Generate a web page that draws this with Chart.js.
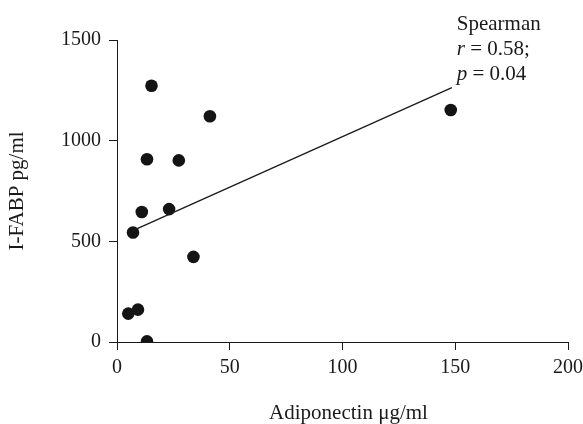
<!DOCTYPE html>
<html>
<head>
<meta charset="utf-8">
<script src="https://cdn.jsdelivr.net/npm/chart.js@4"></script>
<style>
  html, body { margin: 0; padding: 0; background: #fff; }
  #wrap { width: 583px; height: 424px; position: relative; }
</style>
</head>
<body>
<div id="wrap"><canvas id="c" width="583" height="424"></canvas></div>
<script>
// Data
const adiponectin = [15.3, 41.2, 13.3, 27.4, 11.0, 23.1, 7.1, 33.9, 5.0, 9.3, 13.3, 148.0];
const ifabp       = [1273, 1121, 908, 902, 646, 660, 544, 423, 141, 161, 3, 1152];
const fitX = [7, 148.5];
const fitY = [553, 1263];
const xTicks = [0, 50, 100, 150, 200];
const yTicks = [0, 500, 1000, 1500];
const xTitle = 'Adiponectin μg/ml';
const yTitle = 'I-FABP pg/ml';
const statLines = [
  [{t: 'Spearman', i: false}],
  [{t: 'r', i: true}, {t: ' = 0.58;', i: false}],
  [{t: 'p', i: true}, {t: ' = 0.04', i: false}]
];

const FONT = '"Liberation Serif", "Times New Roman", serif';
const INK = '#1a1a1a';

const points = adiponectin.map((x, i) => ({x: x, y: ifabp[i]}));
const fit = fitX.map((x, i) => ({x: x, y: fitY[i]}));

const textPlugin = {
  id: 'texts',
  afterDraw(chart) {
    const ctx = chart.ctx;
    const a = chart.chartArea;
    ctx.save();
    ctx.fillStyle = INK;
    ctx.font = '21px ' + FONT;
    // x title
    ctx.textAlign = 'center';
    ctx.textBaseline = 'alphabetic';
    ctx.fillText(xTitle, (a.left + a.right) / 2 + 6, 419);
    // y title
    ctx.save();
    ctx.translate(23, (a.top + a.bottom) / 2);
    ctx.rotate(-Math.PI / 2);
    ctx.fillText(yTitle, 0, 0);
    ctx.restore();
    // stats annotation
    const xs = chart.scales.x;
    const x0 = xs.getPixelForValue(150) + 1.5;
    const baselines = [29.5, 54.5, 80];
    ctx.textAlign = 'left';
    statLines.forEach((segs, li) => {
      let x = x0;
      segs.forEach(s => {
        ctx.font = (s.i ? 'italic ' : '') + '21px ' + FONT;
        ctx.fillText(s.t, x, baselines[li]);
        x += ctx.measureText(s.t).width;
      });
    });
    ctx.restore();
  }
};

new Chart(document.getElementById('c'), {
  type: 'scatter',
  data: {
    datasets: [
      {
        data: fit,
        showLine: true,
        borderColor: INK,
        borderWidth: 1.3,
        pointRadius: 0,
        pointHoverRadius: 0,
        fill: false
      },
      {
        data: points,
        backgroundColor: '#141414',
        borderColor: '#141414',
        borderWidth: 0,
        pointRadius: 6.3
      }
    ]
  },
  options: {
    responsive: false,
    animation: false,
    events: [],
    layout: { padding: { top: 40, right: 15, left: 0, bottom: 0 } },
    plugins: {
      legend: { display: false },
      tooltip: { enabled: false }
    },
    scales: {
      x: {
        type: 'linear',
        min: 0, max: 200,
        afterBuildTicks(s) { s.ticks = xTicks.map(v => ({value: v})); },
        afterFit(s) { s.height = 82; s.paddingLeft = 0; s.paddingRight = 0; },
        grid: { drawOnChartArea: false, drawTicks: true, tickLength: 8, tickColor: INK, lineWidth: 1 },
        border: { display: true, color: INK, width: 1 },
        ticks: { color: INK, font: { family: FONT, size: 20 }, padding: 6, maxRotation: 0, autoSkip: false,
                 callback: v => String(v) }
      },
      y: {
        type: 'linear',
        min: 0, max: 1500,
        afterBuildTicks(s) { s.ticks = yTicks.map(v => ({value: v})); },
        afterFit(s) { s.width = 117; s.paddingTop = 0; s.paddingBottom = 0; },
        grid: { drawOnChartArea: false, drawTicks: true, tickLength: 8, tickColor: INK, lineWidth: 1 },
        border: { display: true, color: INK, width: 1 },
        ticks: { color: INK, font: { family: FONT, size: 20 }, padding: 8, autoSkip: false,
                 callback: v => String(v) }
      }
    }
  },
  plugins: [textPlugin]
});
</script>
</body>
</html>
